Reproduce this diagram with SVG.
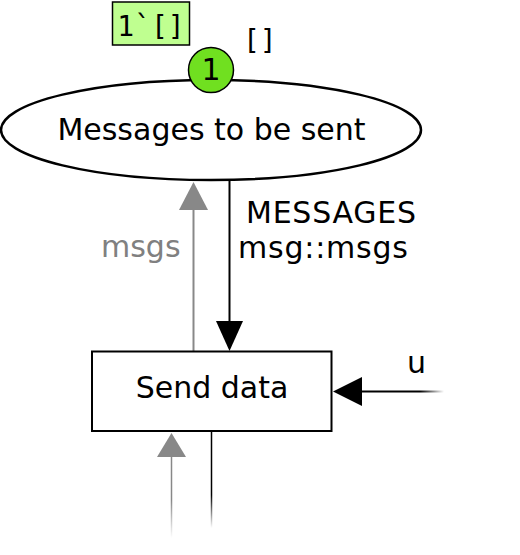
<svg xmlns="http://www.w3.org/2000/svg" width="520" height="555" viewBox="0 0 520 555">
<style>
text{font-family:"DejaVu Sans","Verdana",sans-serif;font-size:30px;fill:#000}
.mono{font-family:"DejaVu Sans Mono","Liberation Mono",monospace;font-size:28px}
.gray{fill:#808080}
</style>
<defs>
<linearGradient id="fadeR" gradientUnits="userSpaceOnUse" x1="420" y1="0" x2="444" y2="0">
<stop offset="0" stop-color="#000"/><stop offset="1" stop-color="#000" stop-opacity="0"/>
</linearGradient>
<linearGradient id="fadeB" gradientUnits="userSpaceOnUse" x1="0" y1="495" x2="0" y2="528">
<stop offset="0" stop-color="#000"/><stop offset="1" stop-color="#000" stop-opacity="0"/>
</linearGradient>
<linearGradient id="fadeG" gradientUnits="userSpaceOnUse" x1="0" y1="500" x2="0" y2="538">
<stop offset="0" stop-color="#888"/><stop offset="1" stop-color="#888" stop-opacity="0"/>
</linearGradient>
</defs>
<g id="connectors">
<line x1="193.5" y1="351" x2="193.5" y2="208" stroke="#888" stroke-width="2"/>
<polygon points="193.5,182 179,210 208,210" fill="#888"/>
<line x1="229.5" y1="181" x2="229.5" y2="323" stroke="#000" stroke-width="2"/>
<polygon points="229.5,351 216,321 243,321" fill="#000"/>
<line x1="444" y1="391.5" x2="360" y2="391.5" stroke="url(#fadeR)" stroke-width="2"/>
<polygon points="333,391.5 362,377 362,406" fill="#000"/>
<line x1="171.5" y1="538" x2="171.5" y2="455" stroke="url(#fadeG)" stroke-width="1.5"/>
<polygon points="171.5,433 157,457 186,457" fill="#888"/>
<line x1="211.5" y1="432" x2="211.5" y2="528" stroke="url(#fadeB)" stroke-width="1.5"/>
<text class="gray" x="101" y="257" font-size="28">msgs</text>
<text x="246" y="223" textLength="170" lengthAdjust="spacing">MESSAGES</text>
<text x="238" y="258" textLength="170" lengthAdjust="spacing">msg::msgs</text>
<text x="407" y="373">u</text>
</g>
<g id="place-messages">
<ellipse cx="211" cy="130" rx="210" ry="50" fill="#fff" stroke="#000" stroke-width="2.5"/>
<text x="211.5" y="140" text-anchor="middle">Messages to be sent</text>
<rect x="112.5" y="2" width="77" height="43" fill="#bfff90" stroke="#000" stroke-width="1.5"/>
<text class="mono" x="151" y="36" text-anchor="middle">1`[]</text>
<text class="mono" x="243" y="50">[]</text>
<circle cx="211" cy="70" r="22.5" fill="#70e020" stroke="#000" stroke-width="1.5"/>
<text x="211" y="80" text-anchor="middle" font-size="27">1</text>
</g>
<g id="transition-send">
<rect x="92" y="351.5" width="239.5" height="79.5" fill="#fff" stroke="#000" stroke-width="2"/>
<text x="212" y="398" text-anchor="middle">Send data</text>
</g>
</svg>
